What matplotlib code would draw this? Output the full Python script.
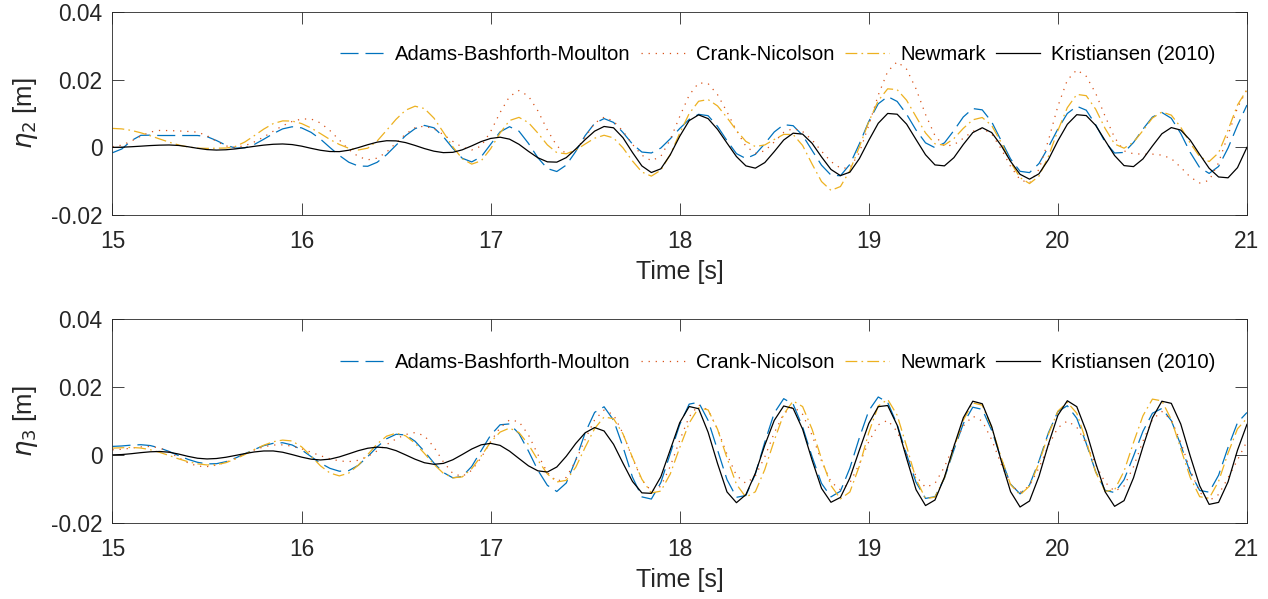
"""Elevaciones eta2 / eta3 frente al tiempo: tres integradores y Kristiansen (2010)."""

import matplotlib
import numpy as np

matplotlib.use("Agg")
from matplotlib import pyplot as plt  # noqa: E402

# sample times [s], every 0.05 s from 15 to 21
TIME = np.round(np.arange(15.0, 21.0001, 0.05), 2)

# values, in mm (rows of 0.5 s)
ETA2_ABM = [
    -1.6, -0.46, 1.99, 3.55, 3.6, 3.5, 3.5, 3.5, 3.5, 3.5,
    3.17, 2.02, 0.65, -0.21, -0.13, 0.85, 2.39, 4.05, 5.46, 6.08,
    5.76, 4.45, 2.44, -0.04, -2.4, -4.4, -5.51, -5.59, -4.41, -2.16,
    0.64, 3.45, 5.52, 6.48, 5.78, 3.15, -0.3, -3.22, -4.3, -2.78,
    0.9, 4.58, 6.1, 4.77, 1.18, -3.08, -6.27, -7.14, -5.24, -1.23,
    3.48, 7.09, 8.5, 7.37, 4.38, 0.98, -1.39, -1.66, -0.21, 2.53,
    5.57, 8.26, 9.76, 9.36, 6.2, 1.98, -1.85, -3.3, -2.08, 1.09,
    4.55, 6.7, 6.4, 3.55, -0.9, -5.27, -8.2, -8.39, -5.03, 1.02,
    7.65, 12.87, 15.0, 13.57, 9.79, 5.11, 1.33, -0.1, 1.32, 4.97,
    8.99, 11.46, 11.08, 7.53, 2.0, -3.43, -7.08, -7.46, -4.79, 0.06,
    5.43, 10.01, 12.14, 10.98, 6.66, 1.55, -1.67, -1.5, 1.44, 5.38,
    8.95, 10.3, 8.59, 4.09, -1.49, -5.99, -7.7, -5.64, -0.21, 6.51,
    12.5,
]
ETA2_CN = [
    0.2, 0.66, 1.86, 3.34, 4.54, 5.0, 4.95, 4.85, 4.7, 4.5,
    3.45, 1.79, 0.41, 0.02, 0.48, 1.6, 3.06, 4.76, 6.38, 7.65,
    8.37, 8.39, 7.21, 4.96, 2.16, -0.65, -2.72, -3.68, -3.2, -1.4,
    1.3, 3.9, 5.8, 6.28, 5.48, 3.78, 1.76, 0.05, -0.78, 0.38,
    4.66, 10.29, 15.04, 16.8, 15.15, 10.78, 5.14, 0.44, -1.92, -0.87,
    3.01, 7.16, 8.9, 7.76, 4.77, 0.9, -2.32, -3.95, -2.67, 2.32,
    9.1, 15.42, 19.05, 18.85, 15.58, 10.5, 4.98, 0.32, -1.74, -1.03,
    1.6, 4.42, 5.6, 4.67, 2.21, -1.13, -4.2, -6.14, -6.09, -1.57,
    6.54, 15.44, 22.44, 25.3, 23.09, 17.27, 9.74, 3.46, 0.3, 0.76,
    2.68, 4.74, 5.6, 3.97, -0.43, -5.65, -9.56, -10.57, -6.5, 2.07,
    12.15, 19.88, 22.9, 21.0, 15.98, 9.17, 2.89, -1.06, -1.9, -2.0,
    -2.0, -2.3, -3.31, -5.91, -8.77, -10.53, -9.78, -4.53, 3.65, 11.69,
    17.08,
]
ETA2_NEWMARK = [
    5.6, 5.45, 5.01, 4.3, 3.42, 2.47, 1.53, 0.7, 0.11, -0.24,
    -0.3, -0.25, -0.2, 0.27, 1.58, 3.45, 5.39, 7.01, 7.82, 7.77,
    7.03, 5.73, 4.07, 2.33, 0.85, -0.28, -0.78, -0.24, 1.88, 5.05,
    8.3, 10.97, 12.16, 11.46, 8.66, 4.46, 0.16, -3.37, -4.95, -3.99,
    -0.41, 4.24, 7.93, 8.86, 7.31, 4.21, 0.73, -1.56, -1.9, -0.82,
    0.99, 2.7, 3.57, 2.79, -0.15, -4.02, -7.29, -8.5, -6.74, -2.12,
    4.18, 9.97, 13.62, 14.13, 12.24, 8.8, 5.0, 1.75, 0.24, 0.71,
    2.33, 3.83, 3.8, 0.55, -4.92, -10.1, -12.72, -11.58, -6.87, 0.12,
    7.57, 13.8, 17.3, 17.05, 13.92, 9.05, 4.26, 1.05, 0.68, 2.6,
    5.62, 8.14, 8.82, 6.45, 1.45, -4.43, -8.94, -10.7, -8.51, -2.69,
    4.97, 11.73, 15.65, 15.27, 11.27, 5.57, 1.0, -0.25, 1.54, 4.95,
    8.66, 10.45, 9.52, 5.94, 1.24, -2.73, -4.2, -1.6, 5.13, 12.51,
    17.07,
]
ETA2_KRISTIANSEN = [
    0.0, 0.05, 0.18, 0.35, 0.53, 0.65, 0.7, 0.56, 0.18, -0.28,
    -0.66, -0.8, -0.71, -0.46, -0.10, 0.30, 0.66, 0.91, 1.0, 0.82,
    0.36, -0.28, -0.86, -1.23, -1.26, -0.85, -0.08, 0.78, 1.54, 1.96,
    1.91, 1.41, 0.57, -0.36, -1.13, -1.56, -1.47, -0.73, 0.44, 1.71,
    2.63, 3.0, 2.42, 0.9, -1.17, -3.08, -4.28, -4.37, -3.03, -0.5,
    2.3, 4.79, 6.17, 5.78, 2.85, -1.5, -5.49, -7.44, -6.35, -2.2,
    3.27, 7.9, 9.6, 8.49, 5.33, 1.27, -2.72, -5.47, -6.15, -4.5,
    -1.26, 2.17, 4.19, 3.91, 1.2, -2.83, -6.53, -8.35, -7.33, -3.35,
    2.07, 7.12, 10.02, 9.79, 6.86, 2.3, -2.18, -5.19, -5.47, -3.05,
    0.86, 4.36, 5.8, 4.36, 0.56, -4.16, -7.96, -9.4, -7.82, -3.61,
    1.93, 6.81, 9.65, 9.39, 6.5, 2.0, -2.42, -5.39, -5.69, -3.42,
    0.4, 4.01, 5.84, 5.1, 2.13, -2.1, -6.18, -8.75, -9.0, -6.0,
    0.0,
]

ETA3_ABM = [
    2.5, 2.63, 2.88, 3.0, 2.75, 2.03, 1.0, -0.22, -1.33, -2.19,
    -2.66, -2.6, -2.01, -0.94, 0.32, 1.58, 2.72, 3.41, 3.58, 2.92,
    1.48, -0.48, -2.44, -3.97, -4.82, -4.63, -3.07, -0.5, 2.37, 4.76,
    6.08, 5.89, 4.04, 1.01, -2.38, -5.2, -6.76, -6.38, -3.4, 1.25,
    5.81, 8.88, 9.14, 6.27, 1.12, -4.54, -8.98, -10.8, -8.29, -1.51,
    6.52, 12.54, 14.19, 10.24, 2.35, -6.55, -12.39, -13.03, -8.19, 0.37,
    8.92, 14.97, 15.51, 10.18, 1.45, -7.28, -12.52, -11.97, -5.65, 3.74,
    12.35, 16.58, 14.95, 8.23, -0.53, -8.41, -12.38, -10.72, -3.89, 5.02,
    13.04, 17.08, 15.46, 8.97, 0.12, -8.12, -12.84, -12.33, -6.91, 1.43,
    9.22, 14.06, 13.43, 7.22, -1.1, -8.64, -11.5, -8.89, -1.84, 6.51,
    12.77, 14.5, 10.79, 3.38, -4.98, -10.46, -11.12, -7.33, -0.37, 6.97,
    12.28, 13.7, 10.11, 2.92, -5.18, -10.49, -11.0, -6.0, 2.2, 9.5,
    12.5,
]
ETA3_CN = [
    1.5, 1.65, 2.0, 2.35, 2.5, 2.04, 0.82, -0.84, -2.36, -3.32,
    -3.46, -3.02, -2.16, -1.03, 0.26, 1.44, 2.38, 2.91, 2.96, 2.57,
    1.8, 0.8, -0.25, -1.15, -1.78, -2.0, -1.6, -0.45, 1.18, 3.05,
    4.71, 6.0, 6.58, 5.65, 2.31, -2.05, -5.49, -6.35, -4.57, -0.82,
    3.91, 8.03, 10.3, 9.8, 5.9, 0.1, -5.21, -7.83, -6.63, -1.75,
    4.61, 10.33, 13.22, 11.85, 6.31, -0.92, -7.43, -10.7, -9.26, -3.38,
    4.3, 11.22, 14.7, 13.25, 7.61, 0.18, -6.08, -8.4, -6.24, -0.57,
    6.47, 12.14, 14.3, 11.96, 5.81, -1.81, -7.96, -10.3, -8.24, -2.68,
    3.91, 8.86, 10.2, 6.9, 0.3, -6.3, -9.6, -8.43, -3.55, 2.81,
    8.53, 11.42, 9.99, 4.49, -2.74, -8.84, -11.1, -9.1, -3.82, 2.72,
    8.0, 10.0, 8.17, 3.34, -2.9, -8.1, -10.72, -9.22, -3.48, 4.07,
    10.44, 12.8, 10.3, 3.73, -4.43, -11.0, -13.5, -11.7, -6.75, -1.5,
    4.0,
]
ETA3_NEWMARK = [
    2.0, 2.1, 2.2, 2.02, 1.52, 0.74, -0.19, -1.18, -2.01, -2.64,
    -2.97, -2.9, -2.3, -1.22, 0.11, 1.59, 2.85, 3.88, 4.36, 4.1,
    2.39, -0.31, -3.23, -5.35, -6.2, -5.36, -3.05, 0.1, 3.25, 5.52,
    6.4, 5.63, 3.47, 0.41, -2.78, -5.44, -6.77, -6.49, -4.09, -0.33,
    3.76, 6.72, 7.9, 6.58, 3.07, -1.55, -5.62, -7.99, -7.51, -3.67,
    2.24, 7.76, 11.18, 10.69, 6.19, -0.74, -7.21, -11.23, -10.69, -5.64,
    2.13, 9.38, 13.89, 13.28, 7.58, -0.9, -8.67, -12.49, -10.88, -4.31,
    4.27, 12.0, 15.89, 14.25, 7.56, -1.17, -9.03, -12.98, -10.94, -3.33,
    6.58, 14.43, 16.35, 11.7, 2.52, -7.2, -12.9, -12.47, -6.76, 2.03,
    10.23, 15.33, 14.67, 8.07, -0.76, -8.76, -11.8, -9.21, -2.38, 6.08,
    12.91, 15.5, 12.28, 3.98, -5.14, -10.76, -10.31, -4.81, 3.65, 11.54,
    16.45, 15.93, 10.41, 1.8, -6.66, -12.33, -12.8, -7.8, 0.5, 7.7,
    10.8,
]
ETA3_KRISTIANSEN = [
    0.0, 0.1, 0.35, 0.66, 0.91, 1.0, 0.79, 0.24, -0.44, -0.99,
    -1.2, -1.07, -0.7, -0.17, 0.38, 0.86, 1.15, 1.16, 0.78, 0.09,
    -0.66, -1.26, -1.5, -1.26, -0.59, 0.31, 1.24, 1.96, 2.29, 2.08,
    1.25, 0.01, -1.27, -2.32, -2.78, -2.51, -1.44, 0.11, 1.73, 2.97,
    3.4, 2.8, 1.1, -1.08, -3.23, -4.71, -5.06, -3.57, -0.41, 3.35,
    6.52, 8.06, 7.05, 3.13, -2.45, -7.82, -11.2, -11.35, -6.48, 1.5,
    9.48, 14.27, 13.62, 6.71, -2.54, -10.92, -14.1, -11.73, -5.43, 2.86,
    10.18, 14.42, 13.7, 7.58, -1.53, -9.88, -13.98, -12.55, -6.8, 1.38,
    9.26, 14.22, 14.56, 8.76, -1.03, -10.27, -14.95, -13.31, -6.62, 2.48,
    10.96, 15.83, 15.09, 8.35, -1.67, -10.86, -15.37, -13.6, -6.34, 3.14,
    11.68, 15.97, 14.22, 6.99, -2.43, -10.9, -15.17, -13.5, -6.77, 2.4,
    10.93, 15.83, 15.2, 9.08, -0.34, -9.13, -14.6, -14.01, -7.95, 1.38,
    9.0,
]

SERIES_LABELS = ["Adams-Bashforth-Moulton", "Crank-Nicolson", "Newmark", "Kristiansen (2010)"]
SERIES_COLORS = ["#0072BD", "#D95319", "#EDB120", "#000000"]
SERIES_DASHES = [(13.0, 5.0), (0.9, 4.2), (8.5, 3.0, 1.2, 3.0), None]
Y_TICKS = [-0.02, 0.0, 0.02, 0.04]
Y_TICK_LABELS = ["-0.02", "0", "0.02", "0.04"]
X_TICKS = [15, 16, 17, 18, 19, 20, 21]
AXIS_COLOR = "#262626"

plt.rcParams["font.family"] = ["Liberation Sans", "DejaVu Sans"]
plt.rcParams["lines.scale_dashes"] = False


def draw_panel(axis, series, ylabel):
    for values, label, color, dashes in zip(series, SERIES_LABELS, SERIES_COLORS, SERIES_DASHES):
        line, = axis.plot(TIME, np.asarray(values) / 1000.0, color=color, linewidth=0.9, label=label)
        if dashes is not None:
            line.set_dashes(dashes)
    axis.set_xlim(15, 21)
    axis.set_ylim(-0.02, 0.04)
    axis.set_xticks(X_TICKS)
    axis.set_yticks(Y_TICKS)
    axis.set_yticklabels(Y_TICK_LABELS)
    axis.tick_params(direction="in", length=8.5, width=0.6, top=True, right=True,
                     labelsize=16.4, colors=AXIS_COLOR)
    axis.tick_params(axis="x", pad=11)
    axis.tick_params(axis="y", pad=7)
    for spine in axis.spines.values():
        spine.set_color(AXIS_COLOR)
        spine.set_linewidth(0.6)
    axis.set_xlabel("Time [s]", fontsize=18, color=AXIS_COLOR, labelpad=5)
    axis.set_ylabel(ylabel, fontsize=18.5, color=AXIS_COLOR, labelpad=8)
    axis.legend(loc="upper right", bbox_to_anchor=(0.972, 0.835), ncol=4, frameon=False,
                fontsize=14.6, handlelength=2.17, handletextpad=0.55, columnspacing=0.5,
                borderpad=0, borderaxespad=0)


figure = plt.figure(figsize=(12.68, 5.99), dpi=100)
top_axis = figure.add_axes([0.0887, 0.641, 0.8947, 0.339])
bottom_axis = figure.add_axes([0.0887, 0.1274, 0.8947, 0.3396])

draw_panel(top_axis, [ETA2_ABM, ETA2_CN, ETA2_NEWMARK, ETA2_KRISTIANSEN], r"$\eta_2$ [m]")
draw_panel(bottom_axis, [ETA3_ABM, ETA3_CN, ETA3_NEWMARK, ETA3_KRISTIANSEN], r"$\eta_3$ [m]")

figure.savefig("out.png", dpi=100, facecolor="white")
plt.close(figure)
